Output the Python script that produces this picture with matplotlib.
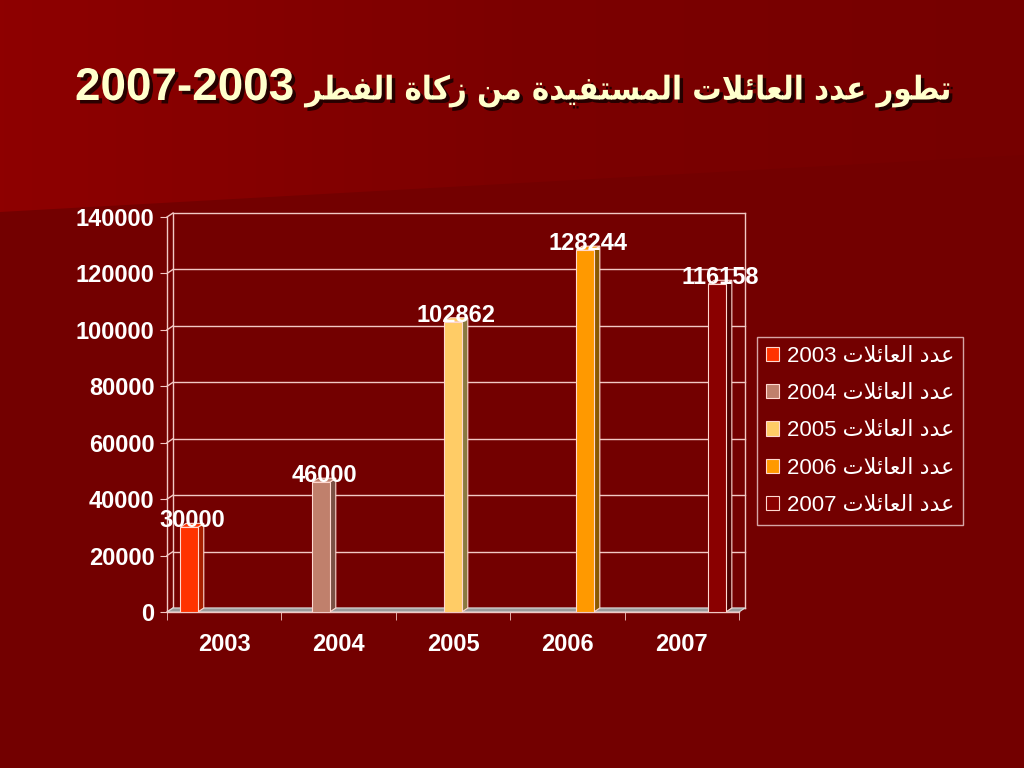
import matplotlib
matplotlib.use("Agg")
import matplotlib.pyplot as plt
import matplotlib.patheffects as pe
import numpy as np
from matplotlib.patches import Patch, Polygon

# ── Data ──────────────────────────────────────────────────────────────────────
years = ["2003", "2004", "2005", "2006", "2007"]
families = [30000, 46000, 102862, 128244, 116158]
series_colors = ["#FF3300", "#C0806C", "#FFCC66", "#FF9900", "#8A0000"]
side_colors = ["#A82000", "#7A5044", "#8A7A40", "#8C5A00", "#4A0000"]
y_ticks = [0, 20000, 40000, 60000, 80000, 100000, 120000, 140000]
title_ar = "تطور عدد العائلات المستفيدة من زكاة الفطر"
title_years = "2007-2003"
legend_ar = "عدد العائلات"

# ── Minimal Arabic shaping (matplotlib has no shaping / bidi) ────────────────
FORMS = {  # isolated, final, initial, medial
    "ا": (0xFE8D, 0xFE8E, None, None),
    "ة": (0xFE93, 0xFE94, None, None),
    "ت": (0xFE95, 0xFE96, 0xFE97, 0xFE98),
    "ط": (0xFEC1, 0xFEC2, 0xFEC3, 0xFEC4),
    "و": (0xFEED, 0xFEEE, None, None),
    "ر": (0xFEAD, 0xFEAE, None, None),
    "ز": (0xFEAF, 0xFEB0, None, None),
    "ع": (0xFEC9, 0xFECA, 0xFECB, 0xFECC),
    "د": (0xFEA9, 0xFEAA, None, None),
    "ل": (0xFEDD, 0xFEDE, 0xFEDF, 0xFEE0),
    "ئ": (0xFE89, 0xFE8A, 0xFE8B, 0xFE8C),
    "م": (0xFEE1, 0xFEE2, 0xFEE3, 0xFEE4),
    "س": (0xFEB1, 0xFEB2, 0xFEB3, 0xFEB4),
    "ف": (0xFED1, 0xFED2, 0xFED3, 0xFED4),
    "ي": (0xFEF1, 0xFEF2, 0xFEF3, 0xFEF4),
    "ن": (0xFEE5, 0xFEE6, 0xFEE7, 0xFEE8),
    "ك": (0xFED9, 0xFEDA, 0xFEDB, 0xFEDC),
    "لا": (0xFEFB, 0xFEFC, None, None),
}


def shape(text):
    tokens, i = [], 0
    while i < len(text):
        if text[i:i + 2] == "لا":
            tokens.append("لا")
            i += 2
        else:
            tokens.append(text[i])
            i += 1
    out = []
    for j, t in enumerate(tokens):
        if t not in FORMS:
            out.append(t)
            continue
        prev = j > 0 and tokens[j - 1] in FORMS and FORMS[tokens[j - 1]][2] is not None
        nxt = FORMS[t][2] is not None and j + 1 < len(tokens) and tokens[j + 1] in FORMS
        iso, fin, ini, med = FORMS[t]
        code = med if (prev and nxt) else fin if prev else ini if nxt else iso
        out.append(chr(code))
    return "".join(out)


def rtl(text):
    return shape(text)[::-1]


# ── Figure / background ──────────────────────────────────────────────────────
plt.rcParams["font.family"] = ["Liberation Sans", "DejaVu Sans"]
W, H = 1024, 768
fig = plt.figure(figsize=(W / 100, H / 100), dpi=100, facecolor="#730000")

bg = fig.add_axes([0, 0, 1, 1], zorder=-10)
bg.set_xlim(0, W)
bg.set_ylim(H, 0)
bg.axis("off")
grad = np.linspace(0, 1, 256)[None, :]
cmap = matplotlib.colors.LinearSegmentedColormap.from_list("bg", ["#8E0000", "#7C0000", "#760000"])
im = bg.imshow(grad, cmap=cmap, extent=[0, W, H, 0], aspect="auto")
band = Polygon([[0, 0], [W, 0], [W, 155], [0, 212]], closed=True, transform=bg.transData,
               facecolor="none", edgecolor="none")
bg.add_patch(band)
im.set_clip_path(band)

# ── Axes (front plane) ───────────────────────────────────────────────────────
ax_l, ax_r, ax_b, ax_t = 167, 739, 612, 217
ax = fig.add_axes([ax_l / W, 1 - ax_b / H, (ax_r - ax_l) / W, (ax_b - ax_t) / H])
ax.set_facecolor("none")
ax.set_xlim(-0.5, 4.5)
ax.set_ylim(0, 140000)

# 3D depth, in data units
dx = 6 * 5.0 / (ax_r - ax_l)
dy = 4 * 140000.0 / (ax_b - ax_t)

line_c = "#F2C8C4"
for v in y_ticks:
    ax.plot([-0.5 + dx, 4.5 + dx], [v + dy, v + dy], color=line_c, lw=1.0, clip_on=False, zorder=1)
    ax.plot([-0.5, -0.5 + dx], [v, v + dy], color=line_c, lw=1.0, clip_on=False, zorder=1)
ax.plot([-0.5 + dx, -0.5 + dx], [dy, 140000 + dy], color=line_c, lw=1.0, clip_on=False, zorder=1)
ax.plot([4.5 + dx, 4.5 + dx], [dy, 140000 + dy], color=line_c, lw=1.0, clip_on=False, zorder=1)

# floor
floor = Polygon([[-0.5, 0], [4.5, 0], [4.5 + dx, dy], [-0.5 + dx, dy]], closed=True,
                facecolor="#9A9A9A", edgecolor="#D8D8D8", lw=0.8, clip_on=False, zorder=2)
ax.add_patch(floor)

# bars: clustered, one series per year
n = len(years)
w = 0.154
for i, (val, c, sc) in enumerate(zip(families, series_colors, side_colors)):
    x0 = i + (i - (n - 1) / 2) * w - w / 2
    ax.bar(x0, val, width=w, align="edge", color=c, edgecolor="#FFD8D0", lw=0.8, zorder=4)
    side = Polygon([[x0 + w, 0], [x0 + w + dx, dy], [x0 + w + dx, val + dy], [x0 + w, val]],
                   closed=True, facecolor=sc, edgecolor="#FFD8D0", lw=0.8, zorder=3, clip_on=False)
    top = Polygon([[x0, val], [x0 + dx, val + dy], [x0 + w + dx, val + dy], [x0 + w, val]],
                  closed=True, facecolor=c, edgecolor="#FFD8D0", lw=0.8, zorder=3, clip_on=False)
    ax.add_patch(side)
    ax.add_patch(top)
    ax.text(x0 + w / 2 + dx / 2, val, f"{val}", ha="center", va="baseline",
            color="white", fontsize=17, fontweight="bold", zorder=6, clip_on=False)

# spines / ticks
for s in ["top", "right"]:
    ax.spines[s].set_visible(False)
for s in ["left", "bottom"]:
    ax.spines[s].set_color(line_c)
    ax.spines[s].set_linewidth(1.0)
ax.set_yticks(y_ticks)
ax.set_yticklabels([str(v) for v in y_ticks], fontweight="bold")
ax.set_xticks(range(n))
ax.set_xticklabels(years, fontweight="bold")
ax.set_xticks(np.arange(-0.5, n, 1.0), minor=True)
ax.tick_params(axis="y", colors=line_c, labelcolor="white", labelsize=17, length=5, pad=4)
ax.tick_params(axis="x", which="major", length=0, labelcolor="white", labelsize=17, pad=15)
ax.tick_params(axis="x", which="minor", length=6, color=line_c)

# ── Legend ───────────────────────────────────────────────────────────────────
handles = [Patch(facecolor=c, edgecolor="#FFD8D0", lw=0.8) for c in series_colors]
labels = [f"{y} " + rtl(legend_ar) for y in years]
leg = fig.legend(handles, labels, loc="upper left", bbox_to_anchor=(757 / W, 1 - 337 / H),
                 fontsize=16, frameon=True, handlelength=0.6, handleheight=0.6,
                 handletextpad=0.35, labelspacing=0.73, borderpad=0.4, borderaxespad=0,
                 fancybox=False)
leg.get_frame().set_facecolor("none")
leg.get_frame().set_edgecolor("#F0D0D0")
leg.get_frame().set_linewidth(1.0)
for t in leg.get_texts():
    t.set_color("white")

# ── Title ────────────────────────────────────────────────────────────────────
shadow = [pe.withSimplePatchShadow(offset=(2.5, -2.5), shadow_rgbFace="black", alpha=0.7)]
title_y = 1 - 88 / H
t_num = fig.text(75 / W, title_y, title_years, ha="left", va="center",
                 fontsize=33, fontweight="bold", color="#FFFFCC",
                 family=["Liberation Sans Narrow", "Liberation Sans"], path_effects=shadow)
t_ar = fig.text(952 / W, title_y - 3 / H, rtl(title_ar), ha="right", va="center",
                fontsize=30, fontweight="bold", color="#FFFFCC",
                family=["DejaVu Sans"], fontstretch="condensed", path_effects=shadow)
# fit the Arabic part into the space right of the years
renderer = fig.canvas.get_renderer()
num_right = t_num.get_window_extent(renderer).x1
avail = 952 - num_right - 12
cur = t_ar.get_window_extent(renderer).width
t_ar.set_fontsize(30 * avail / cur)

fig.savefig("out.png", dpi=100, facecolor=fig.get_facecolor())
